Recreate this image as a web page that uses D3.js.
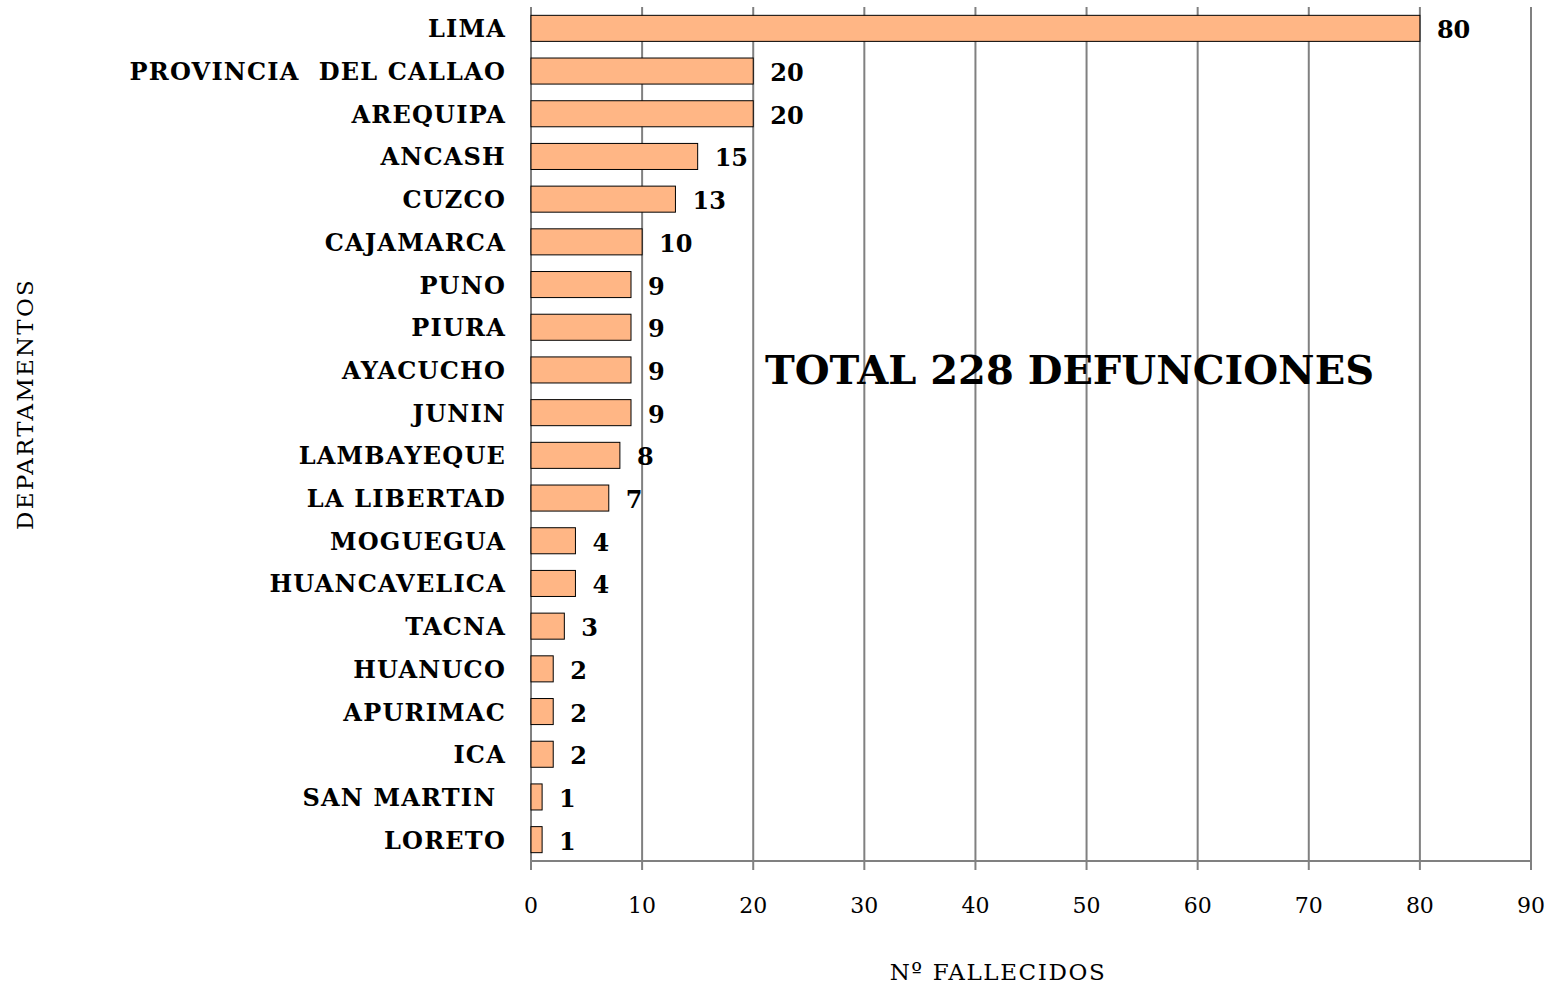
<!DOCTYPE html>
<html><head><meta charset="utf-8">
<script src="https://cdn.jsdelivr.net/npm/d3@7"></script>
<style>
body{margin:0;background:#fff;}
text{font-family:"DejaVu Serif","Liberation Serif",serif;white-space:pre;}
</style></head>
<body><svg id="c" width="1554" height="986"></svg>
<script>
const categories = ["LIMA","PROVINCIA  DEL CALLAO","AREQUIPA","ANCASH","CUZCO","CAJAMARCA","PUNO","PIURA","AYACUCHO","JUNIN","LAMBAYEQUE","LA LIBERTAD","MOGUEGUA","HUANCAVELICA","TACNA","HUANUCO","APURIMAC","ICA","SAN MARTIN ","LORETO"];
const values = [80,20,20,15,13,10,9,9,9,9,8,7,4,4,3,2,2,2,1,1];
const xTicks = [0,10,20,30,40,50,60,70,80,90];
const xTitle = "Nº FALLECIDOS";
const yTitle = "DEPARTAMENTOS";
const note = "TOTAL 228 DEFUNCIONES";

const svg = d3.select("#c");
const L = 531, R = 1531, T = 7, B = 861;
const x = d3.scaleLinear().domain([0,90]).range([L,R]);
const y = d3.scaleBand().domain(categories).range([T,B]).paddingInner(0.39).paddingOuter(0.195);

// gridlines
svg.append("g").selectAll("line").data(xTicks).join("line")
  .attr("x1",d=>x(d)).attr("x2",d=>x(d)).attr("y1",T).attr("y2",B+9)
  .attr("stroke","#808080").attr("stroke-width",2);
svg.append("line").attr("x1",L).attr("x2",R).attr("y1",B).attr("y2",B)
  .attr("stroke","#808080").attr("stroke-width",2);

// bars
svg.append("g").selectAll("rect").data(values).join("rect")
  .attr("x",x(0)).attr("y",(d,i)=>y(categories[i]))
  .attr("width",d=>x(d)-x(0)).attr("height",y.bandwidth())
  .attr("fill","#FFB685").attr("stroke","#000").attr("stroke-width",1);

// value labels
svg.append("g").selectAll("text").data(values).join("text")
  .attr("x",d=>x(d)+17).attr("y",(d,i)=>y(categories[i])+y.bandwidth()/2+10)
  .attr("font-size",24).attr("font-weight","bold").text(d=>d);

// category labels
svg.append("g").selectAll("text").data(categories).join("text")
  .attr("x",506).attr("y",d=>y(d)+y.bandwidth()/2+9)
  .attr("text-anchor","end").attr("font-size",24).attr("letter-spacing",1.2)
  .attr("font-weight","bold").text(d=>d);

// tick labels
svg.append("g").selectAll("text").data(xTicks).join("text")
  .attr("x",d=>x(d)).attr("y",913).attr("text-anchor","middle")
  .attr("font-size",22).text(d=>d);

svg.append("text").attr("x",998).attr("y",980).attr("text-anchor","middle")
  .attr("font-size",23).attr("letter-spacing",1.6).text(xTitle);
svg.append("text").attr("transform","translate(33,404) rotate(-90)").attr("text-anchor","middle")
  .attr("font-size",23).attr("letter-spacing",2.2).text(yTitle);

svg.append("text").attr("x",765).attr("y",384).attr("font-size",40).attr("font-weight","bold").text(note);
</script></body></html>
